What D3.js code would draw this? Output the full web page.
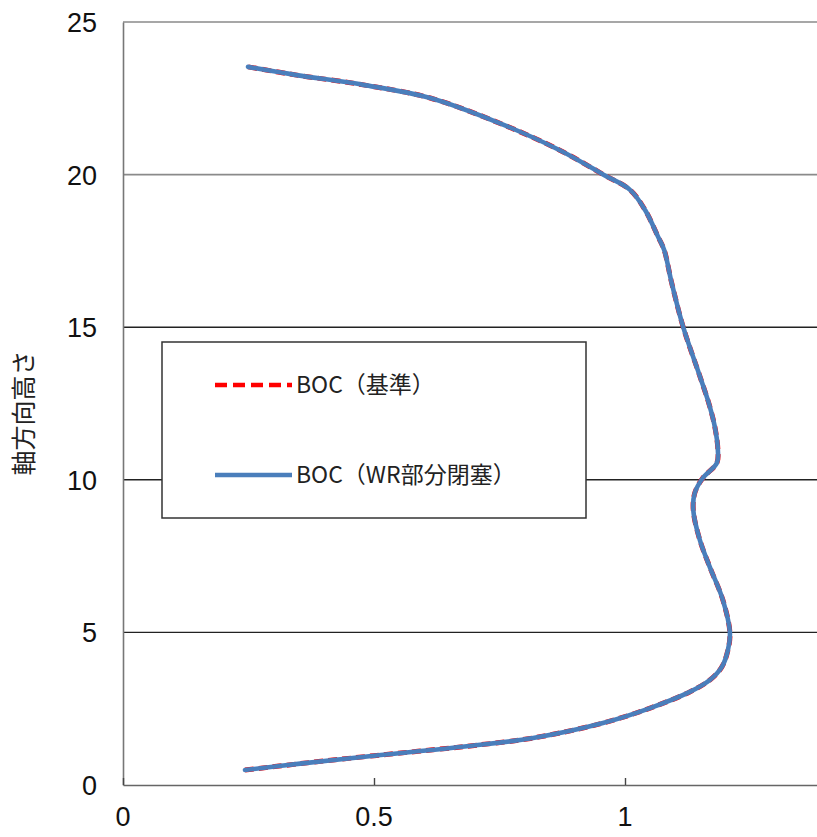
<!DOCTYPE html>
<html>
<head>
<meta charset="utf-8">
<script src="https://cdn.jsdelivr.net/npm/d3@7"></script>
<style>
  html, body { margin: 0; padding: 0; background: #fff; }
  svg { display: block; }
</style>
</head>
<body>
<svg id="chart" width="817" height="837"></svg>
<script>
// ---- data ----
const heights = [0.49, 0.70, 0.96, 1.27, 1.54, 2.03, 2.52, 3.05, 3.44, 3.87, 4.42, 4.98, 6.06, 7.14, 8.03, 9.01, 9.57, 10.06, 10.55, 10.98, 11.73, 12.45, 13.4, 15.0, 16.45, 17.53, 17.96, 18.84, 19.5, 19.99, 20.8, 21.72, 22.51, 22.94, 23.26, 23.53];
const bocBase = [0.243, 0.353, 0.5, 0.685, 0.817, 0.956, 1.05, 1.129, 1.169, 1.193, 1.205, 1.209, 1.195, 1.169, 1.149, 1.136, 1.139, 1.155, 1.183, 1.185, 1.179, 1.168, 1.149, 1.116, 1.093, 1.078, 1.066, 1.04, 1.01, 0.958, 0.87, 0.745, 0.612, 0.479, 0.346, 0.249];
const bocWR   = [0.243, 0.353, 0.5, 0.685, 0.817, 0.956, 1.05, 1.129, 1.169, 1.193, 1.205, 1.209, 1.195, 1.169, 1.149, 1.136, 1.139, 1.155, 1.183, 1.185, 1.179, 1.168, 1.149, 1.116, 1.093, 1.078, 1.066, 1.04, 1.01, 0.958, 0.87, 0.745, 0.612, 0.479, 0.346, 0.249];
const yTicks = [0, 5, 10, 15, 20, 25];
const xTicks = [0, 0.5, 1];
const xTickLabels = ["0", "0.5", "1"];
const seriesNames = ["BOC（基準）", "BOC（WR部分閉塞）"];
const yTitle = "軸方向高さ";

// ---- layout ----
const svg = d3.select("#chart");
const mLeft = 123, mTop = 22, mBottom = 785;
const x = d3.scaleLinear().domain([0, 1.5]).range([mLeft, mLeft + 1.5 * 502]);
const y = d3.scaleLinear().domain([0, 25]).range([mBottom, mTop]);

// gridlines
svg.append("g").selectAll("line").data(yTicks.filter(d => d > 0)).join("line")
  .attr("x1", mLeft).attr("x2", 817)
  .attr("y1", d => y(d)).attr("y2", d => y(d))
  .attr("stroke", d => d >= 20 ? "#8a8a8a" : "#222")
  .attr("stroke-width", d => d >= 20 ? 1.6 : 1.4);

// y axis
const yAxis = svg.append("g").attr("transform", `translate(${mLeft},0)`)
  .call(d3.axisRight(y).tickValues(yTicks).tickSize(0).tickFormat(""));
yAxis.select(".domain").attr("stroke", "#777").attr("stroke-width", 1.6);
svg.append("g").selectAll("text").data(yTicks).join("text")
  .attr("x", 97).attr("y", d => y(d) + 10)
  .attr("text-anchor", "end")
  .attr("font-family", "'Liberation Sans', Arial, sans-serif")
  .attr("font-size", 27).attr("fill", "#111")
  .text(d => d);

// x axis
const xAxis = svg.append("g").attr("transform", `translate(0,${mBottom})`)
  .call(d3.axisTop(x).tickValues(xTicks).tickSize(7).tickSizeOuter(0).tickFormat((d, i) => xTickLabels[i]));
xAxis.select(".domain").attr("stroke", "#666").attr("stroke-width", 1.6);
xAxis.selectAll(".tick line").attr("stroke", "#444").attr("stroke-width", 1.4);
xAxis.selectAll(".tick text").remove();
svg.append("g").selectAll("text").data(xTicks).join("text")
  .attr("x", d => x(d)).attr("y", 826)
  .attr("text-anchor", "middle")
  .attr("font-family", "'Liberation Sans', Arial, sans-serif")
  .attr("font-size", 27).attr("fill", "#111")
  .text((d, i) => xTickLabels[i]);

// y title
svg.append("text")
  .attr("transform", `translate(33,413) rotate(-90)`)
  .attr("text-anchor", "middle")
  .attr("font-family", "'Noto Sans CJK JP', sans-serif")
  .attr("font-size", 25).attr("fill", "#222")
  .text(yTitle);

// lines
const lineGen = vals => d3.line()
  .x((d, i) => x(vals[i]))
  .y((d, i) => y(heights[i]))
  .curve(d3.curveCatmullRom.alpha(0.5))(heights);

svg.append("path").attr("d", lineGen(bocBase))
  .attr("fill", "none").attr("stroke", "#ff0000").attr("stroke-width", 5)
  .attr("stroke-dasharray", "9,5");
svg.append("path").attr("d", lineGen(bocWR))
  .attr("fill", "none").attr("stroke", "#4a7ebb").attr("stroke-width", 4.6)
  .attr("stroke-linecap", "round");

// legend
const lg = svg.append("g");
lg.append("rect").attr("x", 162).attr("y", 342).attr("width", 424).attr("height", 176)
  .attr("fill", "#fff").attr("stroke", "#333").attr("stroke-width", 1.5);
const legendRows = [
  { name: seriesNames[0], color: "#ff0000", dash: "12,6", y: 385 },
  { name: seriesNames[1], color: "#4a7ebb", dash: null, y: 475 }
];
legendRows.forEach(r => {
  lg.append("line").attr("x1", 215).attr("x2", 292).attr("y1", r.y).attr("y2", r.y)
    .attr("stroke", r.color).attr("stroke-width", 4.5)
    .attr("stroke-dasharray", r.dash);
  lg.append("text").attr("x", 296).attr("y", r.y + 8)
    .attr("font-family", "'Noto Sans CJK JP', sans-serif")
    .attr("font-size", 23).attr("fill", "#222")
    .text(r.name);
});
</script>
</body>
</html>
